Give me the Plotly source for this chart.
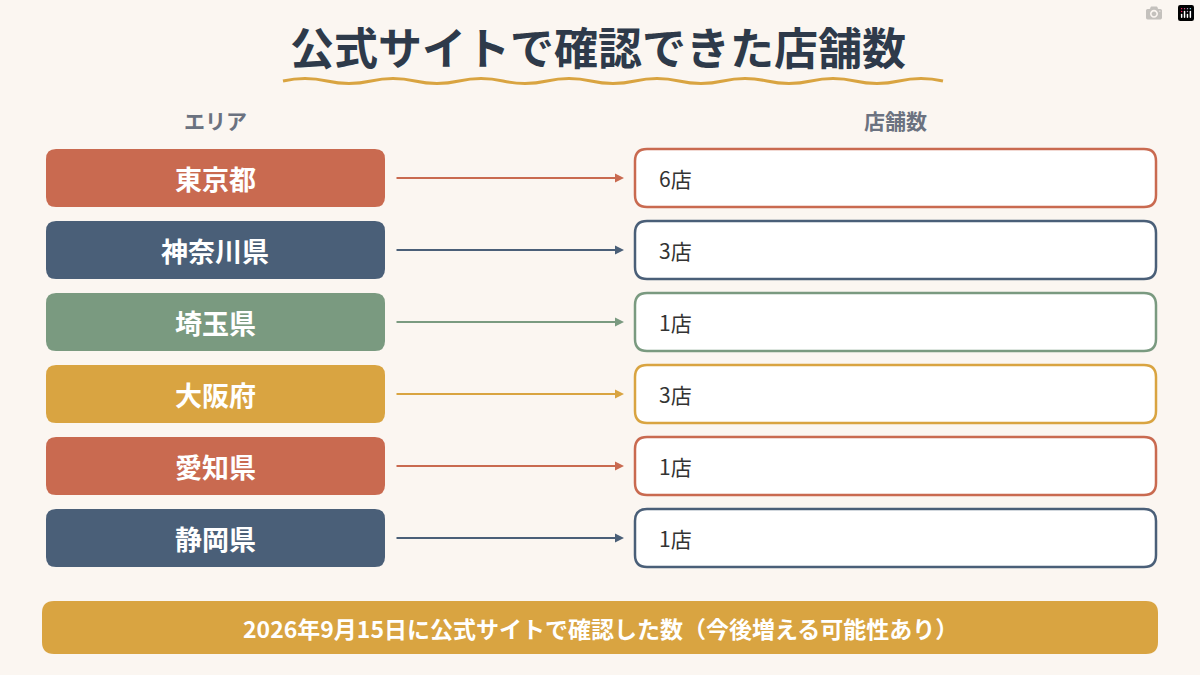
import plotly.graph_objects as go

areas = ["東京都", "神奈川県", "埼玉県", "大阪府", "愛知県", "静岡県"]
counts = [6, 3, 1, 3, 1, 1]
colors = ["#C96A50", "#4A5F78", "#7A9A80", "#D9A441", "#C96A50", "#4A5F78"]
title = "公式サイトで確認できた店舗数"
header_left = "エリア"
header_right = "店舗数"
footer = "2026年9月15日に公式サイトで確認した数（今後増える可能性あり）"

FONT = "Noto Sans CJK JP"

def rrect(x0, y0, x1, y1, r):
    return (f"M{x0+r},{y0} L{x1-r},{y0} Q{x1},{y0} {x1},{y0+r} L{x1},{y1-r} Q{x1},{y1} {x1-r},{y1} "
            f"L{x0+r},{y1} Q{x0},{y1} {x0},{y1-r} L{x0},{y0+r} Q{x0},{y0} {x0+r},{y0} Z")

fig = go.Figure()
shapes, ann = [], []
for i, (a, c, col) in enumerate(zip(areas, counts, colors)):
    yc = 178 + 72 * i
    shapes.append(dict(type="path", path=rrect(46, yc-29, 385, yc+29, 10), fillcolor=col, line=dict(width=0), layer="below"))
    shapes.append(dict(type="path", path=rrect(635, yc-29, 1156, yc+29, 12), fillcolor="white", line=dict(color=col, width=2.5), layer="below"))
    ann.append(dict(x=215, y=yc, text=f"<b>{a}</b>", showarrow=False, font=dict(family=FONT, size=27, color="white")))
    ann.append(dict(x=657, y=yc, text=f"{c}店", xanchor="left", showarrow=False, font=dict(family=FONT, size=21, color="#333")))
    ann.append(dict(x=624, y=yc, ax=395, ay=yc, xref="x", yref="y", axref="x", ayref="y", text="",
                    showarrow=True, arrowhead=2, arrowsize=1, arrowwidth=1.8, arrowcolor=col))

shapes.append(dict(type="path", path=rrect(42, 601, 1158, 654, 12), fillcolor="#D9A441", line=dict(width=0), layer="below"))
ann.append(dict(x=600, y=628, text=f"<b>{footer}</b>", showarrow=False, font=dict(family=FONT, size=23, color="white")))
ann.append(dict(x=598, y=46, text=f"<b>{title}</b>", showarrow=False, font=dict(family=FONT, size=44, color="#2E3A4A")))
ann.append(dict(x=215, y=120, text=f"<b>{header_left}</b>", showarrow=False, font=dict(family=FONT, size=21, color="#6B7280")))
ann.append(dict(x=895, y=120, text=f"<b>{header_right}</b>", showarrow=False, font=dict(family=FONT, size=21, color="#6B7280")))

# wavy underline
wave = "M283,81"
x = 283
up = True
while x < 900:
    wave += f" Q{x+22},{76 if up else 86} {x+44},81"
    x += 44
    up = not up
shapes.append(dict(type="path", path=wave, line=dict(color="#D9A441", width=3)))

fig.update_layout(
    width=1200, height=675, margin=dict(l=0, r=0, t=0, b=0),
    paper_bgcolor="#FBF6F1", plot_bgcolor="#FBF6F1",
    xaxis=dict(range=[0, 1200], visible=False, fixedrange=True),
    yaxis=dict(range=[675, 0], visible=False, fixedrange=True),
    shapes=shapes, annotations=ann, showlegend=False,
)
fig.write_html("out.html", post_script="document.body.style.margin='0';document.body.style.background='#FBF6F1';")
